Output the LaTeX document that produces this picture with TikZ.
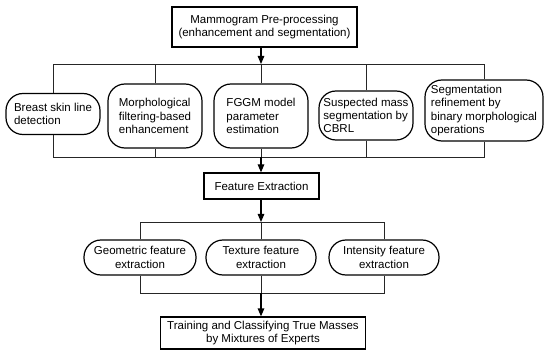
\documentclass[tikz,border=0pt]{standalone}
\usepackage{fontspec}
\setmainfont{Liberation Sans}
\usetikzlibrary{arrows.meta}
\begin{document}
\begin{tikzpicture}[x=1pt,y=-1pt,
  every node/.style={font=\fontsize{11.5}{13.3}\selectfont, inner sep=2pt},
  sqbox/.style={draw, line width=1.2pt, align=center},
  rbox/.style={draw, line width=1.2pt, rounded corners=17pt, align=left},
  pill/.style={draw, line width=1.2pt, rounded corners=17pt, align=center, minimum height=35pt},
  conn/.style={line width=0.6pt, black!85},
  arr/.style={line width=1.2pt, -{Triangle[length=8pt,width=6.5pt]}}]
\useasboundingbox (0,0) rectangle (544,350);
% top box
\node[sqbox, minimum width=185pt, minimum height=40pt] (pre) at (264.5,27)
  {Mammogram Pre-processing\\(enhancement and segmentation)};
\coordinate (j1) at (261,64);
\coordinate (j2) at (261,157);
% row 1
\node[rbox, minimum width=94pt, minimum height=41pt] (breast) at (53,114) {Breast skin line\\detection};
\node[rbox, minimum width=94pt, minimum height=64pt] (morph) at (155,116) {Morphological\\filtering-based\\enhancement};
\node[rbox, minimum width=94pt, minimum height=64pt] (fggm) at (261,116) {FGGM model\\parameter\\estimation};
\node[rbox, minimum width=94pt, minimum height=49pt] (susp) at (366,115.5) {Suspected mass\\segmentation by\\CBRL};
\node[rbox, minimum width=118pt, minimum height=61pt] (segref) at (484,110.5) {Segmentation\\refinement by\\binary morphological\\operations};
% connectors row 1
\draw[arr] (pre.south -| j1) -- (j1);
\draw[conn] (breast.north) -- (breast.north |- j1) -- (segref.north |- j1) -- (segref.north);
\draw[conn] (morph.north) -- (morph.north |- j1);
\draw[conn] (fggm.north) -- (j1);
\draw[conn] (susp.north) -- (susp.north |- j1);
\draw[conn] (breast.south) -- (breast.south |- j2) -- (segref.south |- j2) -- (segref.south);
\draw[conn] (morph.south) -- (morph.south |- j2);
\draw[conn] (fggm.south) -- (j2);
\draw[conn] (susp.south) -- (susp.south |- j2);
% feature extraction
\node[sqbox, minimum width=115pt, minimum height=26pt] (feat) at (261.5,186) {Feature Extraction};
\draw[arr] (j2) -- (feat.north -| j2);
\coordinate (j3) at (261,222);
\coordinate (j4) at (261,293);
\draw[arr] (feat.south -| j3) -- (j3);
% row 2
\node[pill, minimum width=112pt] (geo) at (140,257.5) {Geometric feature\\extraction};
\node[pill, minimum width=110pt] (tex) at (261,257.5) {Texture feature\\extraction};
\node[pill, minimum width=110pt] (inten) at (384,257.5) {Intensity feature\\extraction};
\draw[conn] (geo.north) -- (geo.north |- j3) -- (inten.north |- j3) -- (inten.north);
\draw[conn] (tex.north) -- (j3);
\draw[conn] (geo.south) -- (geo.south |- j4) -- (inten.south |- j4) -- (inten.south);
\draw[conn] (tex.south) -- (j4);
% final box
\node[sqbox, minimum width=205pt, minimum height=32pt] (train) at (263,333)
  {Training and Classifying True Masses\\by Mixtures of Experts};
\draw[arr] (j4) -- (train.north -| j4);
\end{tikzpicture}
\end{document}
